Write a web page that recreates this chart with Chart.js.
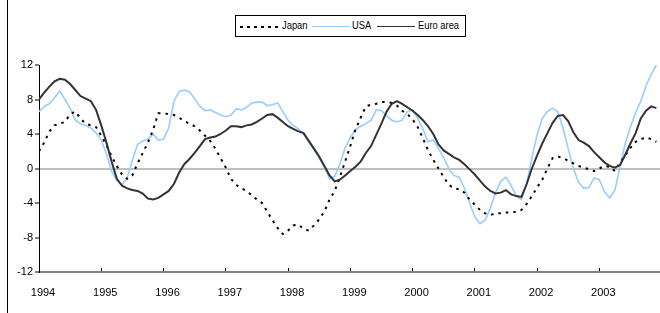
<!DOCTYPE html>
<html>
<head>
<meta charset="utf-8">
<script src="https://cdn.jsdelivr.net/npm/chart.js@4.4.1/dist/chart.umd.min.js"></script>
<style>
  body { margin: 0; background: #fff; }
  #wrap { position: relative; width: 660px; height: 313px; overflow: hidden; }
  #frame { position: absolute; left: 7px; top: 0; width: 1px; height: 313px; background: #000; }
  #chart { position: absolute; left: 0; top: 0; }
  #legend {
    position: absolute; left: 235px; top: 15px; width: 231px; height: 22px;
    border: 1px solid #000; box-sizing: border-box; background: #fff;
    font: 11px 'Liberation Sans', Arial, sans-serif; color: #000;
  }
  #legend .sw { position: absolute; top: 10px; width: 38px; }
  #legend .txt { position: absolute; top: 3px; transform: scaleX(0.85); transform-origin: left center; white-space: nowrap; }
  .sw.japan { height: 2px; background: repeating-linear-gradient(to right, #000 0 3px, transparent 3px 7px); }
  .sw.usa { height: 1px; background: #99ccff; }
  .sw.euro { height: 1px; background: #333; }
</style>
</head>
<body>
<div id="wrap">
  <div id="frame"></div>
  <canvas id="chart" width="660" height="313"></canvas>
  <div id="legend">
    <span class="sw japan" style="left:4px"></span><span class="txt" style="left:46px">Japan</span>
    <span class="sw usa" style="left:76px"></span><span class="txt" style="left:116px">USA</span>
    <span class="sw euro" style="left:141px"></span><span class="txt" style="left:182px">Euro area</span>
  </div>
</div>
<script>
// monthly, Jan 1994 .. Dec 2003
const yearLabels = ['1994', '1995', '1996', '1997', '1998', '1999', '2000', '2001', '2002', '2003'];
const yTicks = [-12, -8, -4, 0, 4, 8, 12];

const japan = [
  2.0, 3.0, 4.3, 5.0, 5.2, 5.4, 6.3, 6.6, 5.8, 5.2,
  5.0, 4.8, 3.8, 2.7, 1.4, 0.3, -0.7, -1.2, -0.8, 0.6,
  1.8, 3.0, 4.5, 6.4, 6.4, 6.3, 6.2, 5.9, 5.5, 5.2,
  4.9, 4.4, 3.8, 3.2, 2.3, 1.2, 0.1, -1.2, -1.9, -2.3,
  -2.6, -3.1, -3.6, -4.0, -5.0, -6.0, -6.9, -7.6, -7.2, -6.6,
  -6.5, -7.0, -7.2, -6.6, -5.9, -5.0, -3.6, -2.6, -1.0, 0.8,
  2.6, 4.5, 5.9, 7.2, 7.4, 7.5, 7.7, 7.7, 7.6, 7.3,
  6.7, 6.3, 5.7, 4.8, 3.5, 2.1, 1.0, 0.0, -1.0, -1.9,
  -2.3, -2.4, -2.8, -3.6, -4.2, -4.8, -5.2, -5.4, -5.2, -5.2,
  -5.1, -5.1, -5.0, -4.8, -4.1, -3.2, -2.2, -1.3, 0.0, 1.2,
  1.4, 1.2, 0.9, 0.6, 0.3, 0.1, -0.1, -0.3, 0.0, 0.3,
  0.2, -0.3, 0.7, 1.5, 2.4, 3.1, 3.4, 3.6, 3.4, 3.1
];

const usa = [
  6.6, 7.2, 7.5, 8.2, 9.0, 8.0, 7.0, 5.6, 5.2, 5.0,
  4.7, 4.1, 3.3, 1.7, -0.3, -1.4, -1.9, -1.1, 1.0, 2.8,
  3.2, 3.4, 4.0, 3.3, 3.4, 4.7, 7.8, 8.9, 9.1, 8.9,
  8.1, 7.2, 6.7, 6.8, 6.5, 6.2, 6.0, 6.2, 6.9, 6.8,
  7.1, 7.6, 7.7, 7.7, 7.3, 7.4, 7.6, 6.6, 5.6, 5.0,
  4.6, 4.0, 3.1, 2.2, 1.2, 0.2, -1.2, -0.9, 0.5, 2.4,
  3.6, 4.5, 4.9, 5.2, 5.6, 6.8, 6.7, 6.1, 5.6, 5.4,
  5.6, 6.6, 6.8, 5.8, 4.6, 3.1, 3.3, 2.3, 1.3, 0.0,
  -0.8, -1.0, -2.3, -4.0, -5.6, -6.4, -6.0, -4.6, -2.8, -1.5,
  -1.0, -2.0, -3.2, -3.6, -1.8, 1.2, 3.9, 5.8, 6.6, 7.0,
  6.6, 4.7, 2.3, 0.0, -1.6, -2.3, -2.2, -1.1, -1.3, -2.7,
  -3.4, -2.5, 0.2, 2.9, 4.8, 6.5, 7.8, 9.6, 10.9, 12.0
];

const euro = [
  8.0, 8.8, 9.5, 10.1, 10.4, 10.3, 9.8, 9.1, 8.4, 8.1,
  7.8, 6.8, 5.0, 3.0, 0.8, -1.2, -2.0, -2.3, -2.5, -2.6,
  -2.9, -3.5, -3.6, -3.4, -3.0, -2.6, -1.8, -0.5, 0.5, 1.1,
  1.8, 2.6, 3.4, 3.6, 3.7, 4.0, 4.4, 4.9, 4.9, 4.8,
  5.0, 5.1, 5.4, 5.8, 6.2, 6.3, 5.9, 5.4, 4.9, 4.6,
  4.3, 4.1, 3.2, 2.3, 1.4, 0.3, -0.8, -1.5, -1.3, -0.8,
  -0.3, 0.2, 0.8, 1.8, 2.6, 3.9, 5.2, 6.6, 7.5, 7.8,
  7.5, 7.1, 6.7, 6.2, 5.6, 4.9, 4.0, 2.8, 2.1, 1.7,
  1.3, 1.0, 0.5, -0.1, -0.7, -1.4, -2.1, -2.6, -2.9, -2.8,
  -2.5, -3.0, -3.2, -3.3, -1.8, 0.0, 1.5, 2.9, 4.1, 5.3,
  6.1, 6.2, 5.5, 4.2, 3.3, 3.0, 2.6, 1.9, 1.3, 0.7,
  0.3, 0.1, 0.4, 1.6, 2.9, 4.1, 5.8, 6.7, 7.2, 7.0
];

const FONT = "'Liberation Sans', Arial, sans-serif";
const toPoints = arr => arr.map((v, i) => ({ x: i, y: v }));

new Chart(document.getElementById('chart'), {
  type: 'line',
  data: {
    datasets: [
      { label: 'Japan', data: toPoints(japan), borderColor: '#000', borderWidth: 2, borderDash: [2.5, 5], order: 1 },
      { label: 'USA', data: toPoints(usa), borderColor: '#99ccff', borderWidth: 1.6, order: 2 },
      { label: 'Euro area', data: toPoints(euro), borderColor: '#333', borderWidth: 2, order: 0 }
    ]
  },
  options: {
    responsive: false,
    animation: false,
    layout: { padding: { top: 65, left: 0, right: 0, bottom: 0 } },
    elements: { point: { radius: 0 }, line: { tension: 0 } },
    plugins: { legend: { display: false }, tooltip: { enabled: false } },
    scales: {
      x: {
        type: 'linear', min: 0, max: 119.7,
        afterBuildTicks: s => { s.ticks = yearLabels.map((_, k) => ({ value: k * 12 })); },
        afterFit: s => { s.height = 41; },
        grid: { drawOnChartArea: false, tickLength: -4, color: '#000', tickColor: '#000' },
        border: { color: '#808080', width: 2 },
        ticks: {
          callback: v => yearLabels[v / 12],
          autoSkip: false, maxRotation: 0, padding: 18, labelOffset: 4,
          color: '#000', font: { family: FONT, size: 11 }
        }
      },
      y: {
        min: -12, max: 12,
        afterBuildTicks: s => { s.ticks = yTicks.map(v => ({ value: v })); },
        afterFit: s => { s.width = 39; },
        grid: {
          color: c => c.tick && c.tick.value === 0 ? '#c0c0c0' : 'rgba(0,0,0,0)',
          lineWidth: 2, tickColor: '#000', tickWidth: 1, tickLength: 4
        },
        border: { color: '#000', width: 1 },
        ticks: { padding: 2, color: '#000', font: { family: FONT, size: 11 } }
      }
    }
  }
});
</script>
</body>
</html>
